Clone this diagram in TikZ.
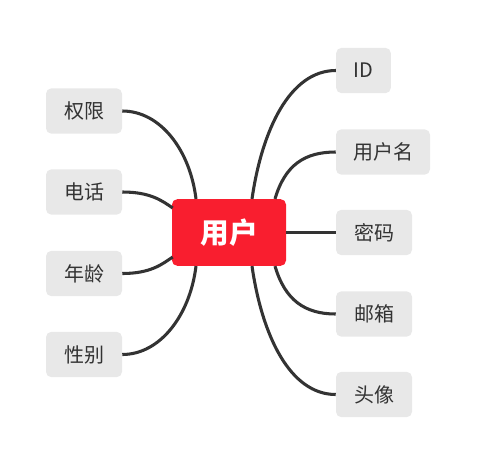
\documentclass[tikz,border=0pt]{standalone}
\usepackage{fontspec}
\setmainfont{Noto Sans CJK SC}
\newfontfamily\cjk{Noto Sans CJK SC}
\usetikzlibrary{calc}
\definecolor{leaffill}{HTML}{E8E8E8}
\definecolor{rootred}{HTML}{F91E2F}
\definecolor{linegray}{HTML}{333333}
\begin{document}
\begin{tikzpicture}[x=0.75pt,y=-0.75pt,
  leaf/.style={fill=leaffill,rounded corners=4pt,inner sep=0pt,minimum height=34pt,text=linegray,font=\cjk\fontsize{15}{18}\selectfont},
  root/.style={fill=rootred,rounded corners=4pt,inner sep=0pt,minimum width=85.5pt,minimum height=50pt,text=white,font=\cjk\bfseries\fontsize{21.5}{24}\selectfont},
  conn/.style={draw=linegray,line width=2.3pt}]
\useasboundingbox (0,0) rectangle (489,458);
\node[root] (c) at (229,232.5) {用户};
\node[leaf,minimum width=57pt] (l1) at (84,111) {权限};
\node[leaf,minimum width=57pt] (l2) at (84,192) {电话};
\node[leaf,minimum width=57pt] (l3) at (84,273.5) {年龄};
\node[leaf,minimum width=57pt] (l4) at (84,354.5) {性别};
\node[leaf,minimum width=41pt] (r1) at (363.5,70.5) {ID};
\node[leaf,minimum width=70.5pt] (r2) at (383,152) {用户名};
\node[leaf,minimum width=57pt] (r3) at (374,232.5) {密码};
\node[leaf,minimum width=57pt] (r4) at (374,314) {邮箱};
\node[leaf,minimum width=57pt] (r5) at (374,394.5) {头像};
% left
\draw[conn] (l1.east) .. controls ($(l1.east)+(38,0)$) and ($(c.north)+(-39,-49)$) .. ($(c.north)+(-33,0)$);
\draw[conn] (l2.east) .. controls ($(l2.east)+(28,0)$) and ($(c.west)+(-10,-32)$) .. ($(c.west)+(1,-24.5)$);
\draw[conn] (l3.east) .. controls ($(l3.east)+(28,0)$) and ($(c.west)+(-10,32)$) .. ($(c.west)+(1,24.5)$);
\draw[conn] (l4.east) .. controls ($(l4.east)+(38,0)$) and ($(c.south)+(-39,49)$) .. ($(c.south)+(-33,0)$);
% right
\draw[conn] ($(c.north)+(23,0)$) .. controls ($(c.north)+(33,-69)$) and ($(r1.west)+(-46,0)$) .. (r1.west);
\draw[conn] ($(c.north)+(46,0)$) .. controls ($(c.north)+(56,-34)$) and ($(r2.west)+(-31,0)$) .. (r2.west);
\draw[conn] (c.east) -- (r3.west);
\draw[conn] ($(c.south)+(46,0)$) .. controls ($(c.south)+(56,34)$) and ($(r4.west)+(-31,0)$) .. (r4.west);
\draw[conn] ($(c.south)+(23,0)$) .. controls ($(c.south)+(33,69)$) and ($(r5.west)+(-46,0)$) .. (r5.west);
\end{tikzpicture}
\end{document}
